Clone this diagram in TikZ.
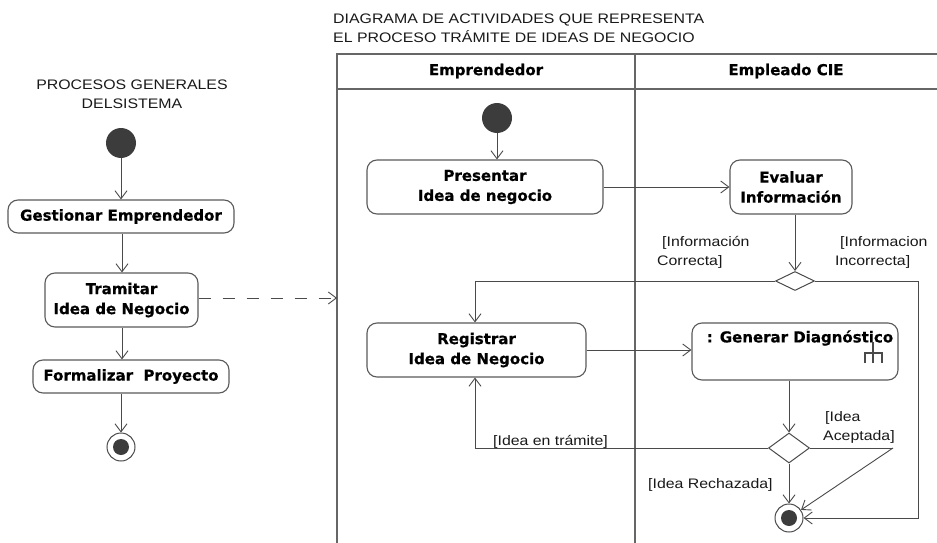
\documentclass[tikz,border=0pt]{standalone}
\usepackage{fontspec}
\setmainfont{Liberation Sans}
\newfontfamily\bfont{DejaVu Sans}[BoldFeatures={FakeBold=0.5}]
\newfontfamily\lfont{Liberation Sans}[FakeStretch=1.15]
\usetikzlibrary{arrows.meta,shapes.geometric}
\definecolor{linec}{HTML}{4A4A4A}
\definecolor{boxc}{HTML}{5A5A5A}
\definecolor{inic}{HTML}{3C3C3C}
\definecolor{framec}{HTML}{666666}
\begin{document}
\begin{tikzpicture}[x=1pt,y=-1pt,
  act/.style={draw=boxc, line width=1.1pt, rounded corners=10pt, fill=white,
    font=\bfont\bfseries\fontsize{15}{20}\selectfont, align=center, inner sep=0pt},
  btext/.style={font=\bfont\bfseries\fontsize{15}{20}\selectfont, align=center, inner sep=0pt},
  lab/.style={font=\lfont\fontsize{13.8}{19}\selectfont, align=left, inner sep=0pt, text=black!90},
  initnode/.style={circle, fill=inic, minimum size=30pt, inner sep=0pt},
  finalnode/.style={circle, draw=linec, line width=1pt, minimum size=28pt, inner sep=0pt, fill=white,
    path picture={\fill[inic] (path picture bounding box.center) circle (8pt);}},
  dec/.style={diamond, draw=linec, line width=1pt, inner sep=0pt, fill=white},
  arr/.style={draw=linec, line width=0.9pt, -{Straight Barb[length=8pt,width=12pt]}},
  ln/.style={draw=linec, line width=0.9pt},
  frame/.style={draw=framec, line width=2.6pt}
]
\useasboundingbox[fill=white] (0,0) rectangle (937,543);

% titles
\node[lab, align=center] (t1) at (132,94) {PROCESOS GENERALES\\DELSISTEMA};
\node[lab, anchor=west] (t2) at (333,28) {DIAGRAMA DE ACTIVIDADES QUE REPRESENTA\\EL PROCESO TR\'AMITE DE IDEAS DE NEGOCIO};

% swimlane frame
\draw[frame] (337,543) -- (337,54) -- (937,54);
\draw[frame] (337,89) -- (937,89);
\draw[frame] (635,54) -- (635,543);
\node[btext] (h1) at (486,71) {Emprendedor};
\node[btext] (h2) at (786,71) {Empleado CIE};

% left diagram
\node[initnode] (i1) at (121,143) {};
\node[act, minimum width=226pt, minimum height=33pt] (gest) at (121,216.5) {Gestionar Emprendedor};
\node[act, minimum width=153pt, minimum height=54pt] (tram) at (121.5,300) {Tramitar\\Idea de Negocio};
\node[act, minimum width=196pt, minimum height=33pt] (form) at (131,376.5) {Formalizar\ \ Proyecto};
\node[finalnode] (f1) at (121,447) {};
\coordinate (lx) at (122,0);
\draw[arr] (i1) -- (gest.north -| i1);
\draw[arr] (gest.south -| lx) -- (tram.north -| lx);
\draw[arr] (tram.south -| lx) -- (form.north -| lx);
\draw[arr] (form.south -| f1) -- (f1);
\coordinate (dend) at (337,298);
\draw[arr, dash pattern=on 12pt off 12pt] (tram.east |- dend) -- (dend);

% right diagram
\node[initnode] (i2) at (497,118) {};
\node[act, minimum width=236pt, minimum height=54pt] (pres) at (485,187) {Presentar\\Idea de negocio};
\node[act, minimum width=122pt, minimum height=54pt] (eval) at (791,187) {Evaluar\\Informaci\'on};
\node[dec, minimum width=39pt, minimum height=19pt] (d1) at (795,281) {};
\node[act, minimum width=219pt, minimum height=54pt] (reg) at (476.5,350) {Registrar\\Idea de Negocio};
\node[act, minimum width=206pt, minimum height=57pt] (gen) at (795,351.5) {};
\node[btext] (gent) at (800,338) {: Generar Diagn\'ostico};
\node[dec, minimum width=41pt, minimum height=30pt] (d2) at (789,448) {};
\node[finalnode] (f2) at (789,518) {};

% fork icon
\draw[linec, line width=1.6pt] (873,342) -- (873,353)
  (865,363) -- (865,353) -- (882,353) -- (882,363) (873,353) -- (873,363);

\draw[arr] (i2) -- (pres.north -| i2);
\draw[arr] (pres.east) -- (eval.west |- pres.east);
\draw[arr] (eval.south -| d1) -- (d1.north);
\coordinate (c1) at (475,281);
\draw[arr] (d1.west) -- (c1) -- (reg.north -| c1);
\coordinate (c2) at (918,281);
\coordinate (c3) at (918,518);
\draw[arr] (d1.east) -- (c2) -- (c3) -- (f2.east);
\draw[arr] (reg.east) -- (gen.west |- reg.east);
\draw[arr] (gen.south -| d2) -- (d2.north);
\coordinate (c4) at (475,448);
\draw[arr] (d2.west) -- (c4) -- (reg.south -| c4);
\draw[arr] (d2.south) -- (f2.north);
\coordinate (c5) at (893,448);
\draw[ln] (d2.east) -- (c5);
\draw[arr] (c5) -- (f2);

% guard labels
\node[lab, anchor=north west] (g1) at (657,236) {\hspace*{5pt}[Informaci\'on\\Correcta]};
\node[lab, anchor=north west] (g2) at (835,236) {\hspace*{5pt}[Informacion\\Incorrecta]};
\node[lab, anchor=base west] (g3) at (493,445) {[Idea en tr\'amite]};
\node[lab, anchor=north west] (g4) at (823,411) {\hspace*{2pt}[Idea\\Aceptada]};
\node[lab, anchor=base west] (g5) at (648,488) {[Idea Rechazada]};
\end{tikzpicture}
\end{document}
